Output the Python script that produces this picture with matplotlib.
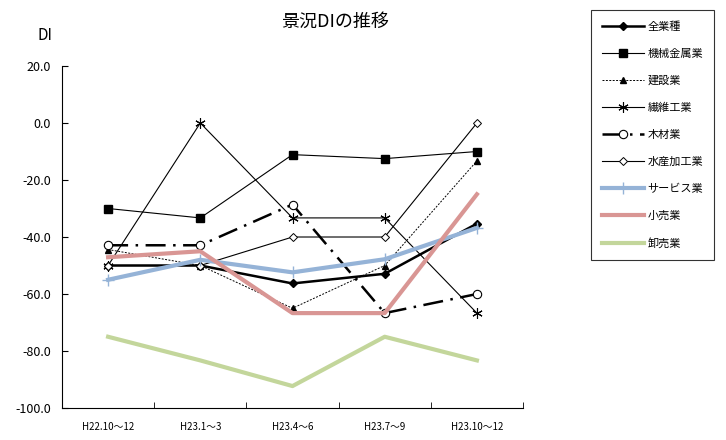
import matplotlib
matplotlib.use("Agg")
import matplotlib.pyplot as plt

plt.rcParams["font.family"] = ["Noto Sans CJK JP", "DejaVu Sans"]
plt.rcParams["axes.unicode_minus"] = False

periods = ["H22.10～12", "H23.1～3", "H23.4～6", "H23.7～9", "H23.10～12"]

all_industries = [-50.0, -50.0, -56.3, -52.9, -35.3]
machinery_metal = [-30.0, -33.3, -11.1, -12.5, -10.0]
construction = [-44.4, -50.0, -65.0, -50.0, -13.3]
textile = [-50.0, 0.0, -33.3, -33.3, -66.7]
lumber = [-42.9, -42.9, -28.6, -66.7, -60.0]
seafood = [-50.0, -50.0, -40.0, -40.0, 0.0]
service = [-55.0, -48.0, -52.4, -47.8, -36.8]
retail = [-47.1, -45.0, -66.7, -66.7, -25.0]
wholesale = [-75.0, -83.3, -92.3, -75.0, -83.3]

series = [
    ("全業種", all_industries, dict(color="black", lw=1.8, marker="D", ms=4.5, mfc="black")),
    ("機械金属業", machinery_metal, dict(color="black", lw=0.8, marker="s", ms=5.5, mfc="black")),
    ("建設業", construction, dict(color="black", lw=0.7, ls=(0, (2, 1.5)), marker="^", ms=5, mfc="black")),
    ("繊維工業", textile, dict(color="black", lw=0.8, marker=(6, 2, 0), ms=7.5, mew=0.8)),
    ("木材業", lumber, dict(color="black", lw=1.8, ls=(0, (8, 3, 1, 3)), marker="o", ms=6, mfc="white", mew=0.8)),
    ("水産加工業", seafood, dict(color="black", lw=0.8, marker="D", ms=4.5, mfc="white", mew=0.7)),
    ("サービス業", service, dict(color="#95B3D7", lw=3, marker="+", ms=8, mew=1.0)),
    ("小売業", retail, dict(color="#D99694", lw=3)),
    ("卸売業", wholesale, dict(color="#C3D69B", lw=3)),
]

fig = plt.figure(figsize=(7.26, 4.40), dpi=100)
ax = fig.add_axes([0.0854, 0.0727, 0.635, 0.7773])

x = list(range(len(periods)))
handles = []
for label, values, style in series:
    line, = ax.plot(x, values, label=label, **style)
    handles.append(line)

ax.set_xlim(-0.5, len(periods) - 0.5)
ax.set_ylim(-100, 20)
ax.set_yticks(range(-100, 21, 20))
ax.set_yticklabels([f"{v:.1f}" for v in range(-100, 21, 20)], fontsize=9)
ax.set_xticks(x)
ax.set_xticklabels(periods, fontsize=7)
ax.tick_params(axis="x", length=0, pad=10)
ax.set_xticks([i + 0.5 for i in range(-1, len(periods))], minor=True)
ax.tick_params(axis="x", which="minor", length=4, direction="in")
ax.tick_params(axis="y", length=4, direction="in", pad=8)
ax.spines["top"].set_visible(False)
ax.spines["right"].set_visible(False)

fig.text(0.461, 0.95, "景況DIの推移", ha="center", va="center", fontsize=13)
fig.text(0.062, 0.92, "DI", ha="center", va="center", fontsize=11)

leg = fig.legend(handles=handles, loc="upper left", bbox_to_anchor=(0.806, 0.99),
                 fontsize=8, frameon=True, fancybox=False, edgecolor="black",
                 handlelength=3.8, labelspacing=1.52, borderpad=1.0,
                 handletextpad=0.3)
leg.get_frame().set_linewidth(0.8)

fig.savefig("out.png", dpi=100)
